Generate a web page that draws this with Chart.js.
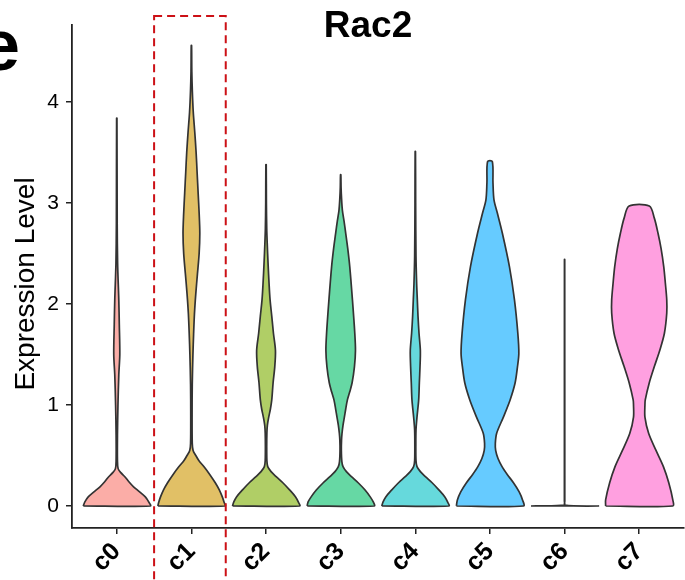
<!DOCTYPE html>
<html lang="en">
<head>
  <meta charset="UTF-8" />
  <title>Rac2 – Expression Level</title>
  <script src="https://cdn.jsdelivr.net/npm/chart.js"></script>
  <style>
    body { margin: 0; background: #fff; }
    #vln { display: block; }
  </style>
</head>
<body>
  <canvas id="vln" width="685" height="580"></canvas>

  <script>
    // clusters and their fills (ggplot hue palette, alpha 0.6)
    const categories = ['c0', 'c1', 'c2', 'c3', 'c4', 'c5', 'c6', 'c7'];
    const fills = [
      'rgba(248,118,109,0.6)', 'rgba(205,150,0,0.6)', 'rgba(124,174,0,0.6)', 'rgba(0,190,103,0.6)',
      'rgba(0,191,196,0.6)', 'rgba(0,169,255,0.6)', 'rgba(199,124,255,0.6)', 'rgba(255,97,204,0.6)'
    ];
    const yTicks = [0, 1, 2, 3, 4];

    // violin outlines: expression level and relative half width (1 = widest)
    const c0Y = [0, 0.04, 0.09, 0.14, 0.19, 0.24, 0.29, 0.33, 0.37, 0.45, 0.7, 1.0, 1.3, 1.5, 1.8, 2.04, 2.4, 2.8, 3.84];
    const c0W = [1, 0.95, 0.85, 0.68, 0.5, 0.36, 0.24, 0.12, 0.04, 0.02, 0.02, 0.035, 0.06, 0.09, 0.075, 0.06, 0.025, 0.012, 0.005];
    const c1Y = [0, 0.04, 0.09, 0.16, 0.23, 0.31, 0.39, 0.45, 0.5, 0.55, 0.62, 0.9, 1.2, 1.5, 1.7, 1.9, 2.1, 2.3, 2.5, 2.7, 2.9, 3.1, 3.3, 3.5, 3.7, 3.9, 4.1, 4.3, 4.56];
    const c1W = [1, 0.97, 0.92, 0.83, 0.71, 0.55, 0.37, 0.22, 0.13, 0.05, 0.025, 0.02, 0.025, 0.045, 0.065, 0.09, 0.13, 0.18, 0.23, 0.25, 0.23, 0.2, 0.17, 0.14, 0.1, 0.055, 0.028, 0.012, 0.005];
    const c2Y = [0, 0.04, 0.09, 0.16, 0.23, 0.29, 0.34, 0.39, 0.45, 0.6, 0.72, 0.8, 0.88, 0.96, 1.05, 1.22, 1.38, 1.54, 1.71, 1.88, 2.04, 2.2, 2.4, 2.6, 2.75, 3.0, 3.38];
    const c2W = [1, 0.96, 0.88, 0.7, 0.5, 0.3, 0.15, 0.05, 0.025, 0.02, 0.025, 0.04, 0.08, 0.13, 0.17, 0.21, 0.26, 0.28, 0.22, 0.17, 0.12, 0.09, 0.06, 0.035, 0.02, 0.01, 0.005];
    const c3Y = [0, 0.04, 0.09, 0.16, 0.23, 0.29, 0.34, 0.39, 0.44, 0.55, 0.65, 0.72, 0.8, 0.88, 0.96, 1.05, 1.13, 1.22, 1.38, 1.54, 1.71, 2.04, 2.37, 2.55, 2.7, 2.82, 2.93, 3.05, 3.15, 3.28];
    const c3W = [1, 0.97, 0.88, 0.72, 0.52, 0.32, 0.17, 0.07, 0.035, 0.02, 0.025, 0.04, 0.07, 0.11, 0.15, 0.2, 0.27, 0.34, 0.41, 0.44, 0.42, 0.35, 0.27, 0.21, 0.15, 0.1, 0.05, 0.025, 0.012, 0.005];
    const c4Y = [0, 0.04, 0.09, 0.16, 0.23, 0.29, 0.34, 0.39, 0.45, 0.6, 0.75, 0.88, 1.05, 1.22, 1.38, 1.54, 1.71, 1.88, 2.04, 2.2, 2.47, 3.0, 3.51];
    const c4W = [1, 0.96, 0.88, 0.7, 0.5, 0.3, 0.15, 0.05, 0.02, 0.015, 0.02, 0.05, 0.1, 0.12, 0.14, 0.15, 0.11, 0.08, 0.06, 0.04, 0.02, 0.01, 0.005];
    const c5Y = [0, 0.06, 0.14, 0.23, 0.31, 0.39, 0.47, 0.55, 0.62, 0.72, 0.88, 1.05, 1.22, 1.38, 1.51, 1.71, 2.04, 2.37, 2.7, 2.9, 3.03, 3.2, 3.41];
    const c5W = [1, 0.97, 0.87, 0.7, 0.52, 0.36, 0.24, 0.17, 0.16, 0.2, 0.4, 0.6, 0.75, 0.82, 0.86, 0.83, 0.73, 0.58, 0.37, 0.22, 0.12, 0.09, 0.07];
    const c6Y = [0, 0.008, 0.05, 2.44];
    const c6W = [1, 0.012, 0.006, 0.004];
    const c7Y = [0, 0.06, 0.23, 0.39, 0.55, 0.72, 0.88, 1.0, 1.05, 1.22, 1.38, 1.55, 1.71, 1.91, 2.04, 2.2, 2.37, 2.55, 2.7, 2.85, 2.97];
    const c7W = [1, 1, 0.88, 0.72, 0.5, 0.28, 0.17, 0.17, 0.18, 0.3, 0.45, 0.62, 0.75, 0.82, 0.82, 0.78, 0.73, 0.65, 0.56, 0.45, 0.3];

    const violinY = [c0Y, c1Y, c2Y, c3Y, c4Y, c5Y, c6Y, c7Y];
    const violinW = [c0W, c1W, c2W, c3W, c4W, c5W, c6W, c7W];
    const maxHalf = 0.45;          // violin width 0.9 of a category slot
    const highlight = [0.5, 1.46]; // dashed box around c1

    const FONT = "'Liberation Sans', Arial, sans-serif";

    // closed outline: up the left side, down the right side
    function outline(i) {
      const ys = violinY[i], ws = violinW[i];
      const pts = [];
      for (let j = 0; j < ys.length; j++) pts.push({ x: i - maxHalf * ws[j], y: ys[j] });
      for (let j = ys.length - 1; j >= 0; j--) pts.push({ x: i + maxHalf * ws[j], y: ys[j] });
      pts.push(pts[0]);
      return pts;
    }

    const decor = {
      id: 'decor',
      afterDraw(chart) {
        const c = chart.ctx;
        const x = chart.scales.x;
        c.save();
        // title
        c.fillStyle = '#000';
        c.font = `bold 37px ${FONT}`;
        c.textAlign = 'center';
        c.textBaseline = 'alphabetic';
        c.fillText('Rac2', 368, 37);
        // panel letter, cut by the left edge
        c.font = `bold 72px ${FONT}`;
        c.textAlign = 'right';
        c.fillText('e', 20, 70);
        // y axis title
        c.save();
        c.translate(26, 284);
        c.rotate(-Math.PI / 2);
        c.font = `28px ${FONT}`;
        c.textAlign = 'center';
        c.textBaseline = 'middle';
        c.fillText('Expression Level', 0, 0);
        c.restore();
        // dashed highlight box
        c.strokeStyle = '#CC1016';
        c.lineWidth = 2;
        c.setLineDash([8, 5]);
        const l = x.getPixelForValue(highlight[0]);
        const r = x.getPixelForValue(highlight[1]);
        c.strokeRect(l, 16, r - l, 600);
        c.restore();
      }
    };

    new Chart(document.getElementById('vln'), {
      type: 'scatter',
      data: {
        datasets: categories.map((name, i) => ({
          label: name,
          data: outline(i),
          showLine: true,
          fill: 'shape',
          backgroundColor: fills[i],
          borderColor: '#333333',
          borderWidth: 1.7,
          borderJoinStyle: 'round',
          pointRadius: 0,
          tension: 0.3
        }))
      },
      options: {
        responsive: false,
        animation: false,
        events: [],
        layout: { padding: { top: 25, right: 1, left: 0, bottom: 0 } },
        plugins: { legend: { display: false }, tooltip: { enabled: false } },
        scales: {
          x: {
            type: 'linear',
            min: -0.6,
            max: 7.6,
            afterBuildTicks: s => { s.ticks = categories.map((n, i) => ({ value: i })); },
            afterFit: s => { s.height = 52; },
            ticks: {
              callback: v => categories[v],
              autoSkip: false,
              minRotation: 45,
              maxRotation: 45,
              padding: 3,
              color: '#000',
              font: { family: FONT, size: 25, weight: 'bold' }
            },
            grid: { drawOnChartArea: false, drawTicks: true, tickLength: 6, color: '#222', lineWidth: 1.5 },
            border: { display: true, color: '#222', width: 1.8 }
          },
          y: {
            min: -0.218,
            max: 4.762,
            afterBuildTicks: s => { s.ticks = yTicks.map(v => ({ value: v })); },
            afterFit: s => { s.width = 72; },
            ticks: { padding: 7, color: '#000', font: { family: FONT, size: 21 } },
            grid: { drawOnChartArea: false, drawTicks: true, tickLength: 6, color: '#222', lineWidth: 1.5 },
            border: { display: true, color: '#222', width: 1.8 }
          }
        }
      },
      plugins: [decor]
    });
  </script>
</body>
</html>
